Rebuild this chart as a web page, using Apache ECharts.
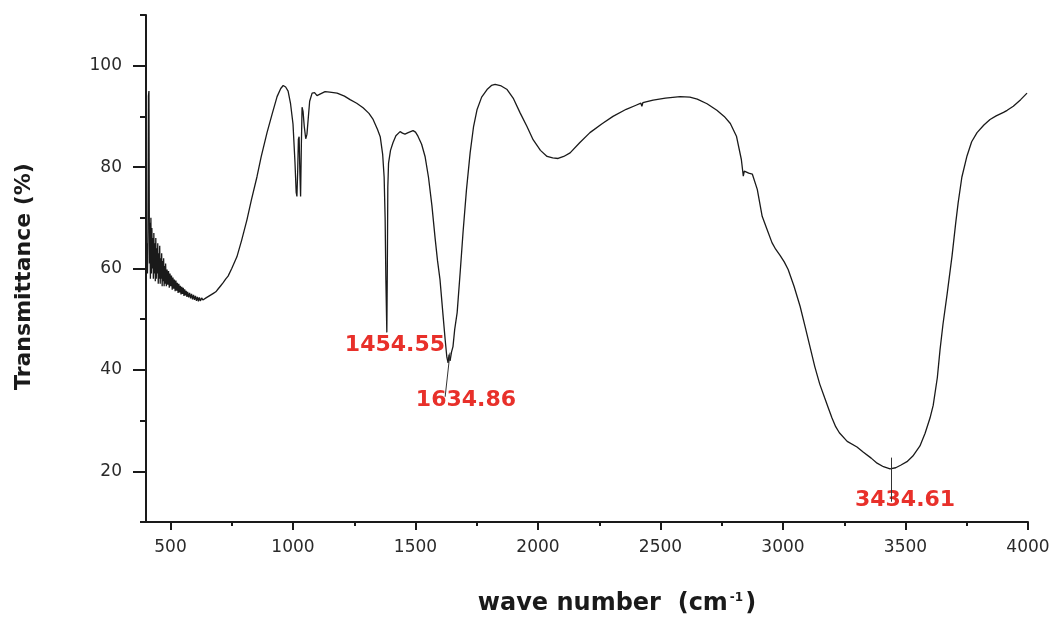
<!DOCTYPE html>
<html>
<head>
<meta charset="utf-8">
<title>FT-IR spectrum</title>
<script src="https://cdn.jsdelivr.net/npm/echarts@6/dist/echarts.min.js"></script>
<style>
  html, body { margin: 0; padding: 0; background: #ffffff; }
  #chart { width: 1057px; height: 621px; }
</style>
</head>
<body>
<div id="chart"></div>
<script>
// Spectrum
const wavenumber = [400,403,406,408,410,412,414,416,418,420,422,424,426,428,430,432,434,436,438,440,442,444,446,448,450,452,454,456,458,460,462,464,466,468,470,472,474,476,478,480,483,486,489,492,495,498,501,504,507,510,513,516,519,522,525,528,531,534,537,540,543,546,549,552,555,558,561,564,567,570,574,578,582,586,590,594,598,602,606,610,614,618,622,627,632,638,645,655,665,675,685,695,705,715,725,735,750,771,790,812,830,853,870,894,915,935,950,960,970,980,990,1000,1008,1013,1016,1019,1022,1025,1028,1031,1034,1037,1041,1046,1052,1057,1062,1068,1078,1088,1098,1110,1131,1150,1180,1210,1233,1260,1286,1310,1327,1345,1356,1366,1372,1376,1379,1383,1385,1387,1390,1398,1408,1420,1437,1447,1457,1470,1490,1500,1510,1525,1539,1553,1567,1580,1590,1600,1612,1621,1628,1633,1637,1641,1647,1653,1660,1670,1682,1694,1708,1723,1737,1751,1770,1792,1810,1825,1850,1874,1900,1927,1955,1980,2010,2037,2060,2082,2105,2131,2170,2212,2260,2306,2360,2400,2420,2424,2428,2470,2520,2580,2620,2650,2690,2730,2760,2785,2810,2830,2838,2842,2846,2860,2875,2895,2915,2935,2955,2970,2988,3005,3021,3045,3070,3090,3110,3130,3150,3170,3185,3200,3215,3230,3262,3302,3327,3360,3384,3410,3437,3460,3480,3506,3530,3559,3580,3600,3613,3630,3641,3653,3670,3690,3705,3715,3730,3751,3770,3792,3820,3845,3870,3900,3915,3940,3970,3996];
const transmittance = [57,65,59,68,94,95,61,69,58,70,59,68,60,66,58,67,59,65,57.5,66,58,64,59,65,57,63,58,64.5,57,62,58,63,56.5,61.5,57.5,62,56.5,60.5,57,61,56.5,59.8,56.8,59.5,56.2,59,56.5,58.6,55.8,58.2,56,57.8,55.5,57.6,55.6,57.2,55.2,57,55.3,56.6,54.9,56.4,55,56.2,54.6,55.9,54.7,55.6,54.4,55.4,54.3,55.2,54.1,55,53.9,54.8,53.8,54.6,53.6,54.4,53.5,54.3,53.6,54.2,53.8,54.1,54.2,54.5,54.8,55.1,55.4,56,56.6,57.2,57.9,58.5,60,62.3,65.5,69.6,73.5,78.1,82,86.8,90.5,93.9,95.5,96.1,95.8,95,92.5,88.5,81,75,74.2,79,85.5,86,79,74.2,84,91.8,91,88,85.6,86.5,89.5,93,94.6,94.7,94.1,94.4,94.9,94.8,94.6,94,93.3,92.6,91.7,90.6,89.4,87.4,86,82.5,78,70,58,47.4,60,76,80.8,83.3,84.8,86.2,87,86.7,86.5,86.8,87.2,86.9,86.1,84.5,82.1,78,72.4,66,61.5,57.8,51,46,42.5,41.4,43,41.8,43.5,44.6,48,51.3,59,67.1,75.5,82.8,88,91.3,93.8,95.3,96.1,96.3,96,95.3,93.5,90.7,88,85.4,83.3,82.1,81.8,81.7,82.1,82.8,84.8,86.8,88.5,90,91.4,92.2,92.6,92,92.7,93.2,93.6,93.9,93.8,93.4,92.5,91.2,90,88.6,86.1,81.5,78.2,79.2,79.1,78.8,78.6,75.6,70.3,67.7,65.1,63.8,62.6,61.3,59.8,56.5,52.5,48.6,44.6,40.6,37.2,34.5,32.5,30.5,28.8,27.6,25.9,24.8,23.8,22.6,21.6,20.9,20.5,20.7,21.2,21.9,23,25,27.5,30.5,33,38.5,44,49,55,62.5,69,73,78,82.2,85,86.8,88.3,89.4,90.1,90.8,91.2,92,93.3,94.6];

// Peak annotations
const peakNames = ['1454.55', '1634.86', '3434.61'];
const peakLabelX = [1416, 1706, 3498];
const peakLabelY = [44.8, 34.1, 14.2];
const peakLines = [
  [[1641, 43.4], [1621, 34.7]],
  [[3440, 22.7], [3440, 14.0]]
];

// Axis ticks
const xMajor = [500, 1000, 1500, 2000, 2500, 3000, 3500, 4000];
const xMinor = [750, 1250, 1750, 2250, 2750, 3250, 3750];
const yMajor = [20, 40, 60, 80, 100];
const yMinor = [10, 30, 50, 70, 90, 110];

const chart = echarts.init(document.getElementById('chart'));

const tickFont = { fontFamily: 'DejaVu Sans', fontSize: 17, color: '#2a2a2a', formatter: v => String(v) };

chart.setOption({
  animation: false,
  backgroundColor: '#ffffff',
  grid: { left: 146, right: 29, top: 15, bottom: 98 },
  xAxis: [{
    type: 'value', min: 400, max: 4000,
    axisLine: { show: true, onZero: false, lineStyle: { color: '#1a1a1a', width: 2 } },
    axisTick: { show: true, length: 8, customValues: xMajor, lineStyle: { color: '#1a1a1a', width: 2 } },
    axisLabel: Object.assign({ margin: 17, customValues: xMajor }, tickFont),
    splitLine: { show: false },
    name: '{a|wave number  (cm}{s|-1}{a|)}',
    nameLocation: 'middle',
    nameGap: 70,
    nameTextStyle: {
      padding: [0, 0, 0, 60],
      rich: {
        a: { fontFamily: 'DejaVu Sans', fontWeight: 'bold', fontSize: 24, color: '#1a1a1a' },
        s: { fontFamily: 'DejaVu Sans', fontWeight: 'bold', fontSize: 12, color: '#1a1a1a', verticalAlign: 'top', padding: [0, 2, 0, 2] }
      }
    }
  }, {
    type: 'value', min: 400, max: 4000, position: 'bottom',
    axisLine: { show: false },
    axisTick: { show: true, length: 4, customValues: xMinor, lineStyle: { color: '#1a1a1a', width: 2 } },
    axisLabel: { show: false },
    splitLine: { show: false }
  }],
  yAxis: [{
    type: 'value', min: 10, max: 110,
    axisLine: { show: true, onZero: false, lineStyle: { color: '#1a1a1a', width: 2 } },
    axisTick: { show: true, length: 13, customValues: yMajor, lineStyle: { color: '#1a1a1a', width: 2 } },
    axisLabel: Object.assign({ margin: 24, customValues: yMajor }, tickFont),
    splitLine: { show: false },
    name: 'Transmittance (%)',
    nameLocation: 'middle',
    nameGap: 111,
    nameRotate: 90,
    nameTextStyle: {
      fontFamily: 'DejaVu Sans', fontWeight: 'bold', fontSize: 22, color: '#1a1a1a',
      padding: [0, 16, 0, 0]
    }
  }, {
    type: 'value', min: 10, max: 110, position: 'left',
    axisLine: { show: false },
    axisTick: { show: true, length: 6, customValues: yMinor, lineStyle: { color: '#1a1a1a', width: 2 } },
    axisLabel: { show: false },
    splitLine: { show: false }
  }],
  series: [{
    type: 'line',
    data: wavenumber.map((w, i) => [w, transmittance[i]]),
    showSymbol: false,
    symbol: 'none',
    sampling: null,
    lineStyle: { color: '#1a1a1a', width: 1.3 },
    markLine: {
      silent: true,
      symbol: 'none',
      label: { show: false },
      lineStyle: { color: '#333333', width: 1, type: 'solid' },
      data: peakLines.map(p => [{ coord: p[0] }, { coord: p[1] }])
    }
  }, {
    type: 'scatter',
    symbolSize: 1,
    itemStyle: { color: 'transparent', opacity: 1 },
    data: peakNames.map((n, i) => [peakLabelX[i], peakLabelY[i], n]),
    label: {
      show: true,
      position: 'inside',
      formatter: p => p.value[2],
      fontFamily: 'DejaVu Sans',
      fontWeight: 'bold',
      fontSize: 22,
      color: '#e8302a',
      opacity: 1
    }
  }]
});
</script>
</body>
</html>
